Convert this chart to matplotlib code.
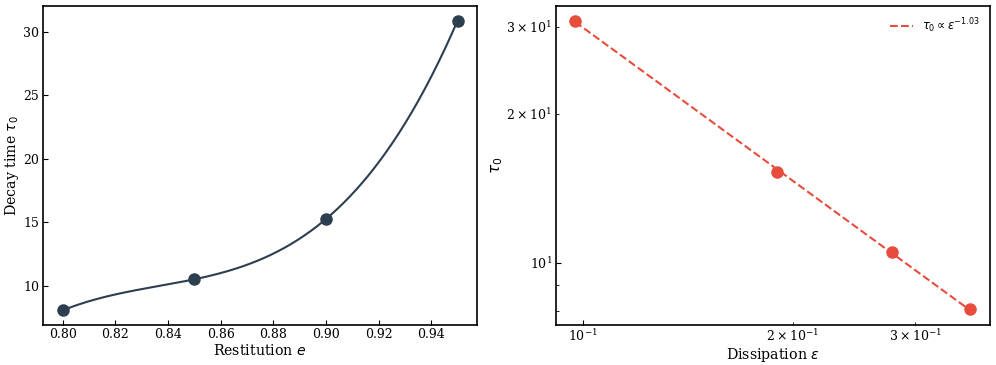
import numpy as np
import matplotlib
matplotlib.use("Agg")
import matplotlib.pyplot as plt

restitution = [0.80, 0.85, 0.90, 0.95]
decay_time = [8.05, 10.5, 15.25, 30.9]
dissipation = [1 - e**2 for e in restitution]

plt.rcParams['font.family'] = ['DejaVu Serif']
plt.rcParams['xtick.direction'] = 'in'
plt.rcParams['ytick.direction'] = 'in'

fig, (ax1, ax2) = plt.subplots(1, 2, figsize=(9.96, 3.65), dpi=100)
fig.subplots_adjust(left=0.043, right=0.994, bottom=0.11, top=0.983, wspace=0.18)

dark = '#2c3e50'
red = '#e74c3c'

# left: smooth curve (interpolating cubic through the 4 points)
coef = np.polyfit(restitution, decay_time, 3)
xs = np.linspace(min(restitution), max(restitution), 300)
ax1.plot(xs, np.polyval(coef, xs), color=dark, lw=1.5)
ax1.plot(restitution, decay_time, 'o', color=dark, ms=8, ls='none')
ax1.set_xlabel('Restitution $e$', fontsize=10.2, labelpad=1)
ax1.set_ylabel(r'Decay time $\tau_0$', fontsize=10.2, labelpad=2)
ax1.tick_params(labelsize=9, pad=2.5)

# right: log-log with power-law fit
p = np.polyfit(np.log(dissipation), np.log(decay_time), 1)
ex = np.array(sorted(dissipation))
ax2.plot(ex, np.exp(np.polyval(p, np.log(ex))), '--', color=red, lw=1.5,
         label=r'$\tau_0 \propto \varepsilon^{%.2f}$' % p[0])
ax2.plot(dissipation, decay_time, 'o', color=red, ms=8, ls='none')
ax2.set_xscale('log')
ax2.set_yscale('log')
ax2.set_xlabel(r'Dissipation $\varepsilon$', fontsize=10.2, labelpad=1)
ax2.set_ylabel(r'$\tau_0$', fontsize=11, labelpad=1)
ax2.tick_params(labelsize=9, which='both', pad=2.5)
ax2.legend(frameon=False, loc='upper right', fontsize=8.3)

for ax in (ax1, ax2):
    for s in ax.spines.values():
        s.set_linewidth(1.2)

fig.savefig('out.png', dpi=100)
